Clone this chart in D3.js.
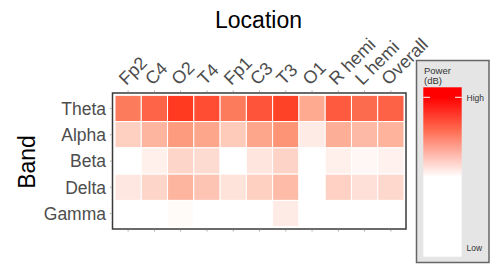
<!DOCTYPE html>
<script src="https://d3js.org/d3.v7.min.js"></script>
<head>
<style>
body { margin: 0; background: #fff; }
text { font-family: "Liberation Sans", Arial, sans-serif; }
</style>
</head>
<html><body>

<svg class="chart"></svg>

<script>
var width = 500;
var height = 272;

// columns (locations) and rows (bands)
var locations = ["Fp2","C4","O2","T4","Fp1","C3","T3","O1","R hemi","L hemi","Overall"];
var bands = ["Theta","Alpha","Beta","Delta","Gamma"];

// relative power per band, one value per location (0 = low, 1 = high)
var theta = [0.615,0.735,0.95,0.85,0.615,0.81,0.91,0.39,0.785,0.70,0.745];
var alpha = [0.215,0.34,0.46,0.41,0.24,0.41,0.49,0.09,0.37,0.32,0.35];
var beta  = [0,0.07,0.19,0.165,0,0.115,0.20,0,0.07,0.035,0.065];
var delta = [0.11,0.19,0.34,0.27,0.13,0.215,0.31,0,0.21,0.14,0.18];
var gamma = [0,0,0.02,0,0,0,0.09,0,0,0,0];

var bandValues = [theta, alpha, beta, delta, gamma];

var cells = [];
bands.forEach(function(b, i) {
    locations.forEach(function(loc, j) {
        cells.push({band: b, loc: loc, value: bandValues[i][j]});
    });
});

var x = d3.scaleBand()
    .domain(locations)
    .range([115, 404]);

var y = d3.scaleBand()
    .domain(bands)
    .range([95.3, 226.7]);

var color = d3.scaleLinear()
    .domain([0, 0.5, 1])
    .range(["#ffffff", "#fc9272", "#ff3018"]);

var chart = d3.select(".chart")
    .attr("width", width)
    .attr("height", height);

// plot frame
chart.append("rect")
    .attr("x", 112.5)
    .attr("y", 93)
    .attr("width", 293.5)
    .attr("height", 136)
    .attr("fill", "#fff")
    .attr("stroke", "#3a3a3a")
    .attr("stroke-width", 1.5);

chart.append("g")
    .selectAll("rect")
    .data(cells)
    .enter().append("rect")
    .attr("x", function(d) { return x(d.loc); })
    .attr("y", function(d) { return y(d.band); })
    .attr("width", x.bandwidth())
    .attr("height", y.bandwidth())
    .attr("fill", function(d) { return color(d.value); })
    .attr("stroke", "#fff")
    .attr("stroke-width", 1);

// little ticks on the frame
var tickG = chart.append("g").attr("stroke", "#aaa").attr("stroke-width", 1);
locations.forEach(function(loc) {
    var cx = x(loc) + x.bandwidth() / 2;
    tickG.append("line").attr("x1", cx).attr("x2", cx).attr("y1", 229.8).attr("y2", 231.5);
    tickG.append("line").attr("x1", cx).attr("x2", cx).attr("y1", 90.5).attr("y2", 92.2);
});
bands.forEach(function(b) {
    var cy = y(b) + y.bandwidth() / 2;
    tickG.append("line").attr("x1", 110).attr("x2", 111.7).attr("y1", cy).attr("y2", cy);
});

// column labels
chart.append("g")
    .selectAll("text")
    .data(locations)
    .enter().append("text")
    .attr("transform", function(d) {
        return "translate(" + (x(d) + x.bandwidth() / 2 - 2) + ",86) rotate(-45)";
    })
    .attr("fill", "#4d4d4d")
    .attr("font-size", 18)
    .text(function(d) { return d; });

// row labels
chart.append("g")
    .selectAll("text")
    .data(bands)
    .enter().append("text")
    .attr("x", 106)
    .attr("y", function(d) { return y(d) + y.bandwidth() / 2; })
    .attr("dy", "0.36em")
    .attr("text-anchor", "end")
    .attr("fill", "#4d4d4d")
    .attr("font-size", 17.5)
    .text(function(d) { return d; });

chart.append("text")
    .attr("x", 258.5)
    .attr("y", 27.5)
    .attr("text-anchor", "middle")
    .attr("font-size", 23)
    .attr("fill", "#000")
    .text("Location");

chart.append("text")
    .attr("transform", "translate(35,162) rotate(-90)")
    .attr("text-anchor", "middle")
    .attr("font-size", 23)
    .attr("fill", "#000")
    .text("Band");

// legend
var legend = chart.append("g");

legend.append("rect")
    .attr("x", 416.5)
    .attr("y", 60.5)
    .attr("width", 72.5)
    .attr("height", 202)
    .attr("fill", "#e5e5e5")
    .attr("stroke", "#666")
    .attr("stroke-width", 1.5);

var grad = chart.append("defs").append("linearGradient")
    .attr("id", "powerGrad")
    .attr("x1", 0).attr("x2", 0).attr("y1", 0).attr("y2", 1);

var barTop = 87.3, barBottom = 256.7, highY = 97.3, whiteY = 177;
var barStops = [
    {y: barTop, c: "#ff0000"},
    {y: highY, c: "#ff0000"},
    {y: 130, c: "#ff6a50"},
    {y: whiteY, c: "#ffffff"},
    {y: barBottom, c: "#ffffff"}
];
grad.selectAll("stop")
    .data(barStops)
    .enter().append("stop")
    .attr("offset", function(d) { return (d.y - barTop) / (barBottom - barTop); })
    .attr("stop-color", function(d) { return d.c; });

legend.append("rect")
    .attr("x", 423.3)
    .attr("y", barTop)
    .attr("width", 38.4)
    .attr("height", barBottom - barTop)
    .attr("fill", "url(#powerGrad)");

legend.append("line")
    .attr("x1", 423.3).attr("x2", 430).attr("y1", highY).attr("y2", highY)
    .attr("stroke", "#fff").attr("stroke-width", 1);
legend.append("line")
    .attr("x1", 455).attr("x2", 461.7).attr("y1", highY).attr("y2", highY)
    .attr("stroke", "#fff").attr("stroke-width", 1);

legend.append("text").attr("x", 424).attr("y", 74).attr("font-size", 9.5).attr("fill", "#333").text("Power");
legend.append("text").attr("x", 424).attr("y", 83.5).attr("font-size", 9.5).attr("fill", "#333").text("(dB)");
legend.append("text").attr("x", 466.5).attr("y", 100.5).attr("font-size", 8.5).attr("fill", "#333").text("High");
legend.append("text").attr("x", 466.5).attr("y", 251).attr("font-size", 8.5).attr("fill", "#333").text("Low");
</script>

</body></html>
